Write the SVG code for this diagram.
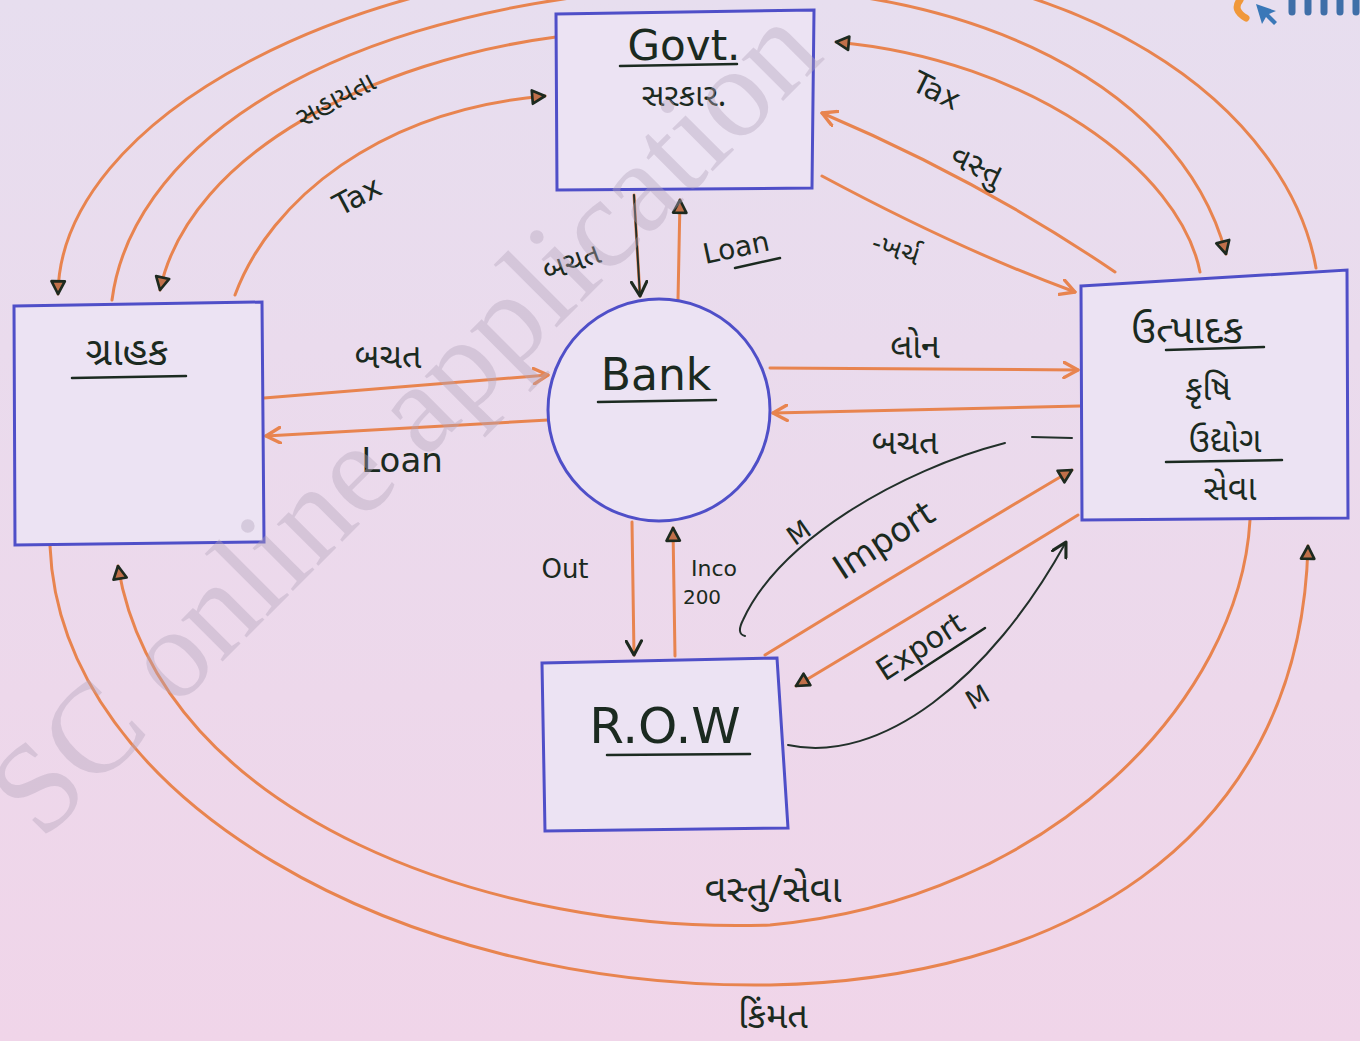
<svg xmlns="http://www.w3.org/2000/svg" width="1360" height="1041" viewBox="0 0 1360 1041">
<defs>
<linearGradient id="bg" x1="0" y1="0" x2="0" y2="1">
<stop offset="0" stop-color="#e7deef"/>
<stop offset="1" stop-color="#f0d5e9"/>
</linearGradient>
<marker id="ov" viewBox="0 0 14 14" refX="12" refY="7" markerWidth="18" markerHeight="18" orient="auto" markerUnits="userSpaceOnUse">
<path d="M1,1 L12,7 L1,13" fill="none" stroke="#e8844f" stroke-width="2.6" stroke-linecap="round" stroke-linejoin="round"/>
</marker>
<marker id="dv" viewBox="0 0 14 14" refX="12" refY="7" markerWidth="18" markerHeight="18" orient="auto" markerUnits="userSpaceOnUse">
<path d="M1,1 L12,7 L1,13" fill="none" stroke="#1d2a1f" stroke-width="2.4" stroke-linecap="round" stroke-linejoin="round"/>
</marker>
<marker id="tri" viewBox="0 0 14 14" refX="12" refY="7" markerWidth="17" markerHeight="17" orient="auto" markerUnits="userSpaceOnUse">
<path d="M1.5,1.5 L12,7 L1.5,12.5 Z" fill="#c0704a" stroke="#1d2a1f" stroke-width="2.2" stroke-linejoin="round"/>
</marker>
</defs>
<style>
.c{fill:none;stroke:#e8844f;stroke-width:3;stroke-linecap:round}
.k{fill:none;stroke:#22302a;stroke-width:2;stroke-linecap:round}
.box{fill:#ece3f3;stroke:#4f4fc8;stroke-width:3}
.t{font-family:"Noto Sans Gujarati","Lohit Gujarati","Noto Sans",sans-serif;fill:#1b2a20;text-anchor:middle}
.l{font-family:"DejaVu Sans","Liberation Sans",sans-serif;fill:#1b2a20;text-anchor:middle}
.u{stroke:#1b2a20;stroke-width:2.5;fill:none;stroke-linecap:round}
</style>
<rect x="0" y="0" width="1360" height="1041" fill="url(#bg)"/>

<g id="logo">
<path d="M1240,0 Q1232,10 1246,18" fill="none" stroke="#f0983a" stroke-width="7" stroke-linecap="round"/>
<path d="M1256,4 L1262,24 L1266,17 L1274,25 L1277,22 L1269,14 L1276,11 Z" fill="#3a78b8"/>
<g stroke="#3f6fa8" stroke-width="7" stroke-linecap="round">
<line x1="1292" y1="0" x2="1292" y2="12"/><line x1="1308" y1="0" x2="1308" y2="12"/><line x1="1324" y1="0" x2="1324" y2="12"/><line x1="1340" y1="0" x2="1340" y2="12"/><line x1="1356" y1="0" x2="1356" y2="12"/>
</g>
</g>

<g id="connectors">
<path class="c" d="M1316,268 C1290,120 1100,-60 700,-40 C350,-40 60,120 58,294" marker-end="url(#tri)"/>
<path class="c" d="M112,300 C130,160 300,20 640,-10 C950,-35 1180,80 1226,254" marker-end="url(#tri)"/>
<path class="c" d="M556,37 C380,60 190,150 160,290" marker-end="url(#tri)"/>
<path class="c" d="M235,295 C270,200 380,110 545,96" marker-end="url(#tri)"/>
<path class="c" d="M1200,272 C1180,170 1030,60 836,42" marker-end="url(#tri)"/>
<path class="c" d="M1115,272 Q980,180 822,113" marker-end="url(#ov)"/>
<path class="c" d="M822,176 Q960,250 1075,292" marker-end="url(#ov)"/>
<path class="c" d="M264,398 L548,375" marker-end="url(#ov)"/>
<path class="c" d="M548,420 L266,436" marker-end="url(#ov)"/>
<path class="c" d="M770,368 L1078,370" marker-end="url(#ov)"/>
<path class="c" d="M1080,406 L773,413" marker-end="url(#ov)"/>
<path class="c" d="M634,195 L640,296"/>
<path class="k" d="M634,195 L640,296" marker-end="url(#dv)"/>
<path class="c" d="M678,300 L680,200" marker-end="url(#tri)"/>
<path class="c" d="M632,522 L634,655" marker-end="url(#dv)"/>
<path class="c" d="M675,656 L673,528" marker-end="url(#tri)"/>
<path class="c" d="M765,655 Q920,560 1072,470" marker-end="url(#tri)"/>
<path class="c" d="M1078,515 Q940,600 796,686" marker-end="url(#tri)"/>
<path class="k" d="M1072,438 L1032,437"/>
<path class="k" d="M1005,443 C900,470 780,540 743,620 Q736,634 745,636"/>
<path class="k" d="M788,745 C880,765 990,680 1066,542" marker-end="url(#dv)"/>
<path class="c" d="M1250,520 C1240,700 1050,900 770,925 C500,935 160,820 118,566" marker-end="url(#tri)"/>
<path class="c" d="M50,546 C60,800 400,990 770,985 C1050,980 1300,850 1308,546" marker-end="url(#tri)"/>
</g>

<g id="govt">
<path class="box" d="M556,14 L814,10 L812,188 L557,190 Z"/>
<text class="l" x="684" y="60" font-size="42">Govt.</text>
<path class="u" d="M620,66 L737,64"/>
<text class="t" x="684" y="106" font-size="32">સરકાર.</text>
</g>

<g id="consumer">
<path class="box" d="M14,306 L262,302 L264,542 L15,545 Z"/>
<text class="t" x="127" y="365" font-size="40">ગ્રાહક</text>
<path class="u" d="M72,378 L186,376"/>
</g>

<g id="bank">
<circle cx="659" cy="410" r="111" fill="#ece3f3" stroke="#4f4fc8" stroke-width="3"/>
<text class="l" x="656" y="390" font-size="44">Bank</text>
<path class="u" d="M598,402 L716,400"/>
</g>

<g id="producer">
<path class="box" d="M1081,286 L1347,270 L1348,518 L1082,520 Z"/>
<text class="t" x="1187" y="343" font-size="40">ઉત્પાદક</text>
<path class="u" d="M1166,350 L1264,347"/>
<text class="t" x="1208" y="400" font-size="34">કૃષિ</text>
<text class="t" x="1225" y="452" font-size="34">ઉદ્યોગ</text>
<path class="u" d="M1166,462 L1282,460"/>
<text class="t" x="1230" y="500" font-size="34">સેવા</text>
</g>

<g id="row">
<path class="box" d="M542,663 L777,658 L788,828 L545,831 Z"/>
<text class="l" x="665" y="743" font-size="50">R.O.W</text>
<path class="u" d="M607,755 L750,754"/>
</g>

<g id="labels">
<text class="t" x="0" y="0" font-size="28" transform="translate(340,108) rotate(-28)">સહાયતા</text>
<text class="l" x="0" y="0" font-size="30" transform="translate(362,205) rotate(-28)">Tax</text>
<text class="l" x="0" y="0" font-size="30" transform="translate(932,100) rotate(26)">Tax</text>
<text class="t" x="0" y="0" font-size="32" transform="translate(972,175) rotate(26)">વસ્તુ</text>
<text class="t" x="0" y="0" font-size="28" transform="translate(893,258) rotate(18)">-ખર્ચ</text>
<text class="t" x="0" y="0" font-size="30" transform="translate(575,272) rotate(-20)">બચત</text>
<text class="l" x="0" y="0" font-size="28" transform="translate(738,257) rotate(-12)">Loan</text>
<path class="u" d="M735,268 L780,258"/>
<text class="t" x="388" y="368" font-size="34">બચત</text>
<text class="l" x="402" y="472" font-size="34">Loan</text>
<text class="t" x="915" y="358" font-size="34">લોન</text>
<text class="t" x="905" y="454" font-size="34">બચત</text>
<text class="l" x="565" y="578" font-size="26">Out</text>
<text class="l" x="714" y="576" font-size="22">Inco</text>
<text class="l" x="702" y="604" font-size="20">200</text>
<text class="l" x="0" y="0" font-size="26" transform="translate(804,540) rotate(-35)">M</text>
<text class="l" x="0" y="0" font-size="34" transform="translate(890,550) rotate(-33)">Import</text>
<text class="l" x="0" y="0" font-size="30" transform="translate(926,655) rotate(-33)">Export</text>
<path class="u" d="M905,680 L985,628"/>
<text class="l" x="0" y="0" font-size="26" transform="translate(982,705) rotate(-30)">M</text>
<text class="t" x="773" y="902" font-size="38">વસ્તુ/સેવા</text>
<text class="t" x="773" y="1028" font-size="36">કિંમત</text>
</g>

<text x="0" y="0" transform="translate(42,842) rotate(-45)" font-family="Liberation Serif,serif" font-size="128" fill="#b4a6bb" fill-opacity="0.4">SC online application</text>
</svg>
